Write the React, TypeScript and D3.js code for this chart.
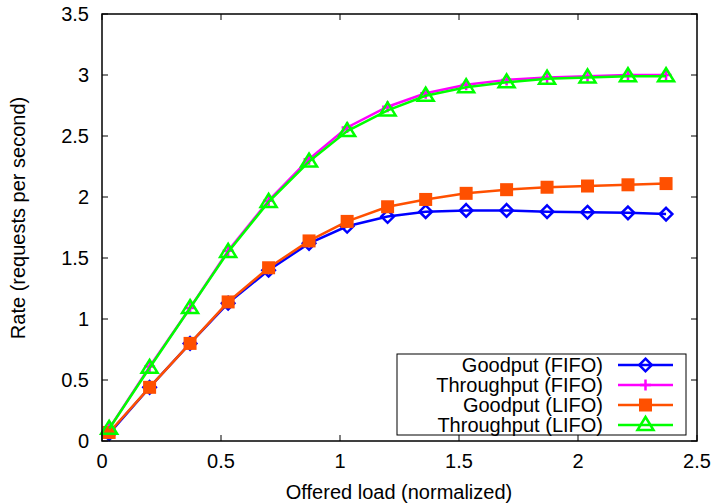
import React from "react";
import * as d3 from "d3";

const loads = [0.03, 0.2, 0.37, 0.53, 0.7, 0.87, 1.03, 1.2, 1.36, 1.53, 1.7, 1.87, 2.04, 2.21, 2.37];
const goodputFIFO = [0.06, 0.44, 0.8, 1.13, 1.4, 1.62, 1.76, 1.84, 1.88, 1.89, 1.89, 1.88, 1.875, 1.87, 1.86];
const throughputFIFO = [0.1, 0.61, 1.09, 1.56, 1.97, 2.31, 2.57, 2.74, 2.85, 2.92, 2.96, 2.98, 2.99, 3.0, 3.0];
const goodputLIFO = [0.07, 0.44, 0.8, 1.14, 1.42, 1.64, 1.8, 1.92, 1.98, 2.03, 2.06, 2.08, 2.09, 2.1, 2.11];
const throughputLIFO = [0.1, 0.6, 1.09, 1.55, 1.96, 2.29, 2.54, 2.71, 2.83, 2.9, 2.94, 2.97, 2.98, 2.99, 2.99];

const xTicks = [0, 0.5, 1, 1.5, 2, 2.5];
const yTicks = [0, 0.5, 1, 1.5, 2, 2.5, 3, 3.5];

const seriesNames = ["Goodput (FIFO)", "Throughput (FIFO)", "Goodput (LIFO)", "Throughput (LIFO)"];
const seriesData = [goodputFIFO, throughputFIFO, goodputLIFO, throughputLIFO];
const seriesColors = ["#0000ff", "#ff00ff", "#ff5000", "#00ff00"];
const seriesMarkers = ["diamond", "plus", "square", "triangle"];

const font = "'Liberation Sans', Arial, sans-serif";
const fs = 20;

function Marker({ type, x, y, color }: { type: string; x: number; y: number; color: string }) {
  if (type === "diamond") {
    const r = 6.3;
    return <path d={`M${x},${y - r}L${x + r},${y}L${x},${y + r}L${x - r},${y}Z`} fill="none" stroke={color} strokeWidth={2.5} />;
  }
  if (type === "plus") {
    const r = 5.5;
    return <path d={`M${x - r},${y}H${x + r}M${x},${y - r}V${y + r}`} stroke={color} strokeWidth={2.5} />;
  }
  if (type === "square") {
    const r = 6.5;
    return <rect x={x - r} y={y - r} width={2 * r} height={2 * r} fill={color} />;
  }
  const r = 8;
  return <path d={`M${x},${y - r}L${x + r},${y + 5}L${x - r},${y + 5}Z`} fill="none" stroke={color} strokeWidth={2.5} />;
}

export default function App() {
  const W = 717, H = 503;
  const left = 102, right = 697, top = 14, bottom = 441;
  const x = d3.scaleLinear().domain([0, 2.5]).range([left, right]);
  const y = d3.scaleLinear().domain([0, 3.5]).range([bottom, top]);
  const line = d3.line<[number, number]>().x(d => x(d[0])).y(d => y(d[1]));
  const tl = 6;

  const legX = 397, legY = 354, legW = 289, legH = 81;

  return (
    <svg width={W} height={H} style={{ position: "absolute", left: 0, top: 0 }} fontFamily={font}>
      <rect width={W} height={H} fill="#fff" />
      {seriesData.map((s, i) => (
        <g key={i}>
          <path d={line(loads.map((l, j) => [l, s[j]]))!} fill="none" stroke={seriesColors[i]} strokeWidth={2.5} />
          {loads.map((l, j) => (
            <Marker key={j} type={seriesMarkers[i]} x={x(l)} y={y(s[j])} color={seriesColors[i]} />
          ))}
        </g>
      ))}
      {/* legend */}
      <rect x={legX} y={legY} width={legW} height={legH} fill="#fff" stroke="#000" strokeWidth={1} />
      {seriesNames.map((n, i) => {
        const yy = legY + 11 + i * 20;
        return (
          <g key={n}>
            <text x={603} y={yy} dy="0.35em" textAnchor="end" fontSize={fs} fill="#000">{n}</text>
            <line x1={618} x2={673} y1={yy} y2={yy} stroke={seriesColors[i]} strokeWidth={2.5} />
            <Marker type={seriesMarkers[i]} x={645.5} y={yy} color={seriesColors[i]} />
          </g>
        );
      })}
      {/* ticks */}
      {xTicks.map(t => (
        <g key={"x" + t}>
          <line x1={x(t)} x2={x(t)} y1={bottom} y2={bottom - tl} stroke="#000" strokeWidth={1} />
          <line x1={x(t)} x2={x(t)} y1={top} y2={top + tl} stroke="#000" strokeWidth={1} />
          <text x={x(t)} y={461} dy="0.35em" textAnchor="middle" fontSize={fs} fill="#000">{t}</text>
        </g>
      ))}
      {yTicks.map(t => (
        <g key={"y" + t}>
          <line x1={left} x2={left + tl} y1={y(t)} y2={y(t)} stroke="#000" strokeWidth={1} />
          <line x1={right} x2={right - tl} y1={y(t)} y2={y(t)} stroke="#000" strokeWidth={1} />
          <text x={89} y={y(t)} dy="0.35em" textAnchor="end" fontSize={fs} fill="#000">{t}</text>
        </g>
      ))}
      <rect x={left} y={top} width={right - left} height={bottom - top} fill="none" stroke="#000" strokeWidth={1.5} />
      <text x={399} y={492} dy="0.35em" textAnchor="middle" fontSize={fs} fill="#000">Offered load (normalized)</text>
      <text transform={`translate(18,218) rotate(-90)`} dy="0.35em" textAnchor="middle" fontSize={fs} fill="#000">Rate (requests per second)</text>
    </svg>
  );
}
